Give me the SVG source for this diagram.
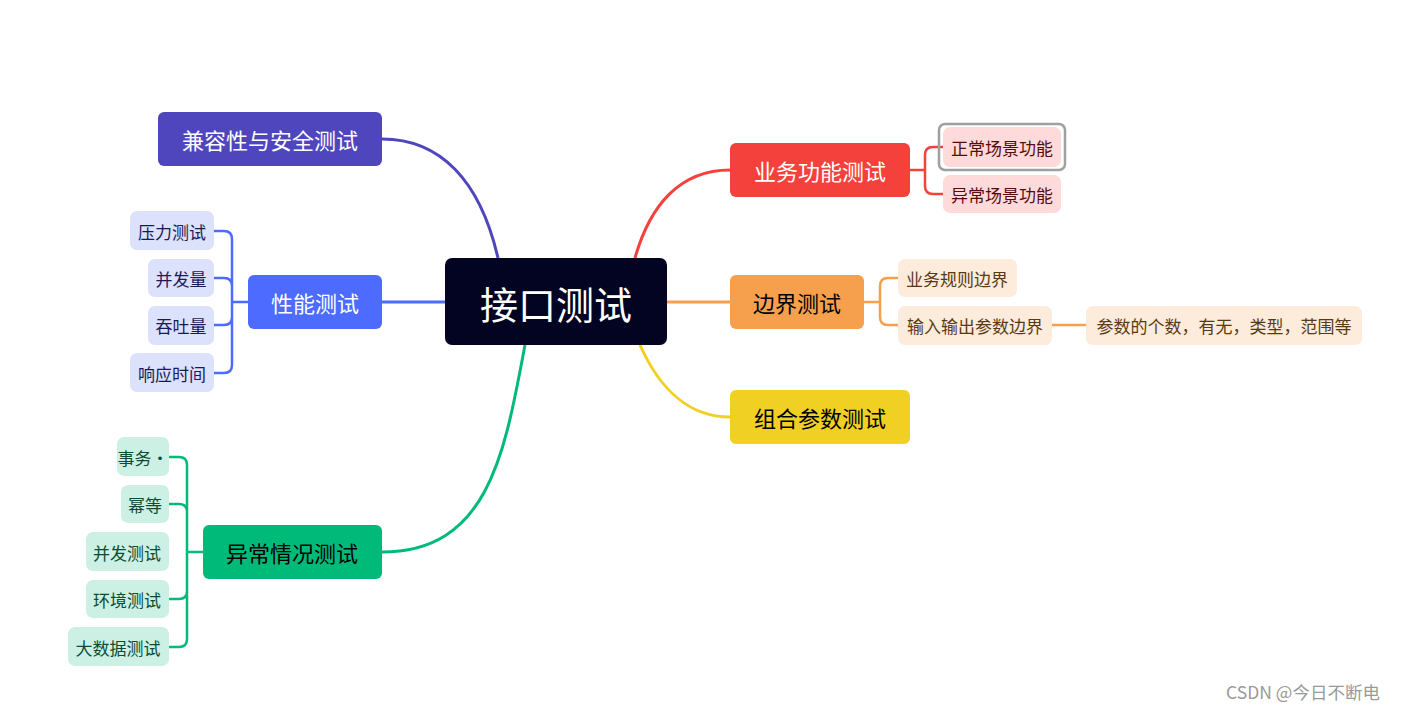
<svg xmlns="http://www.w3.org/2000/svg" width="1404" height="710" viewBox="0 0 1404 710">
<style>
text{font-family:"Noto Sans CJK SC","Liberation Sans",sans-serif;dominant-baseline:central;text-anchor:middle}
.m{font-size:22px}.s{font-size:17px}
.c{fill:none;stroke-width:3}
</style>
<rect width="1404" height="710" fill="#fff"/>
<g id="connectors">
<path class="c" stroke="#4F46BE" d="M498,258 C480,180 440,139 382,139"/>
<path class="c" stroke="#4D6BFE" d="M382,302 H445"/>
<path class="c" stroke="#00BA7A" d="M525,345 C505,450 490,552 382,552"/>
<path class="c" stroke="#F5413C" d="M635,258 C650,205 680,170 730,170"/>
<path class="c" stroke="#F6A04D" d="M667,302 H730"/>
<path class="c" stroke="#F0D023" d="M640,345 C660,390 690,417 730,417"/>
<g stroke-width="2.5" fill="none">
<path stroke="#4D6BFE" d="M248,302 H232 M214,231 H224 Q232,231 232,239 V365 Q232,373 224,373 H214 M214,278 H224 Q232,278 232,286 M214,325 H224 Q232,325 232,317"/>
<path stroke="#00BA7A" d="M203,552 H187 M169,457 H179 Q187,457 187,465 V639 Q187,647 179,647 H169 M169,504 H179 Q187,504 187,512 M169,599 H179 Q187,599 187,591"/>
<path stroke="#F5413C" d="M910,170 H925 M943,147 H933 Q925,147 925,155 V186 Q925,194 933,194 H943"/>
<path stroke="#F6A04D" d="M864,302 H880 M898,278 H888 Q880,278 880,286 V317 Q880,325 888,325 H898 M1052,325 H1086"/>
</g>
</g>
<g id="root"><rect x="445" y="258" width="222" height="87" rx="7" fill="#020422"/><text x="556" y="302" font-size="38" fill="#fff">接口测试</text></g>
<g id="n1"><rect x="158" y="112" width="224" height="54" rx="6" fill="#4F46BE"/><text class="m" x="270" y="139" fill="#fff">兼容性与安全测试</text></g>
<g id="n2"><rect x="248" y="275" width="134" height="54" rx="6" fill="#4D6BFE"/><text class="m" x="315" y="302" fill="#fff">性能测试</text></g>
<g id="n3"><rect x="203" y="525" width="179" height="54" rx="6" fill="#00BA7A"/><text class="m" x="292" y="552" fill="#000">异常情况测试</text></g>
<g id="n4"><rect x="730" y="143" width="180" height="54" rx="6" fill="#F5413C"/><text class="m" x="820" y="170" fill="#fff">业务功能测试</text></g>
<g id="n5"><rect x="730" y="275" width="134" height="54" rx="6" fill="#F6A04D"/><text class="m" x="797" y="302" fill="#000">边界测试</text></g>
<g id="n6"><rect x="730" y="390" width="180" height="54" rx="6" fill="#F0D023"/><text class="m" x="820" y="417" fill="#000">组合参数测试</text></g>
<g fill="#DCE1FC">
<g id="p1"><rect x="130" y="211" width="84" height="39" rx="7"/><text class="s" x="172" y="231" fill="#1a1a5a">压力测试</text></g>
<g id="p2"><rect x="148" y="259" width="66" height="38" rx="7"/><text class="s" x="181" y="278" fill="#1a1a5a">并发量</text></g>
<g id="p3"><rect x="148" y="306" width="66" height="39" rx="7"/><text class="s" x="181" y="325" fill="#1a1a5a">吞吐量</text></g>
<g id="p4"><rect x="130" y="353" width="84" height="39" rx="7"/><text class="s" x="172" y="373" fill="#1a1a5a">响应时间</text></g>
</g>
<g fill="#CCF1E4">
<g id="e1"><rect x="117" y="437" width="52" height="39" rx="7"/><text class="s" x="143" y="457" fill="#0b4d34">事务·</text></g>
<g id="e2"><rect x="121" y="485" width="48" height="38" rx="7"/><text class="s" x="145" y="504" fill="#0b4d34">幂等</text></g>
<g id="e3"><rect x="86" y="532" width="83" height="39" rx="7"/><text class="s" x="127" y="552" fill="#0b4d34">并发测试</text></g>
<g id="e4"><rect x="86" y="580" width="83" height="38" rx="7"/><text class="s" x="127" y="599" fill="#0b4d34">环境测试</text></g>
<g id="e5"><rect x="68" y="627" width="101" height="39" rx="7"/><text class="s" x="118" y="647" fill="#0b4d34">大数据测试</text></g>
</g>
<g fill="#FFDADA">
<g id="b1"><rect x="939" y="124" width="126" height="46" rx="6" fill="none" stroke="#a0a0a0" stroke-width="2.5"/><rect x="943" y="127" width="118" height="40" rx="7"/><text class="s" x="1002" y="147" fill="#5a0a0a">正常场景功能</text></g>
<g id="b2"><rect x="943" y="175" width="118" height="38" rx="7"/><text class="s" x="1002" y="194" fill="#5a0a0a">异常场景功能</text></g>
</g>
<g fill="#FDEBDC">
<g id="j1"><rect x="898" y="259" width="119" height="38" rx="7"/><text class="s" x="957" y="278" fill="#5a3a10">业务规则边界</text></g>
<g id="j2"><rect x="898" y="306" width="154" height="39" rx="7"/><text class="s" x="975" y="325" fill="#5a3a10">输入输出参数边界</text></g>
<g id="j3"><rect x="1086" y="306" width="276" height="39" rx="7"/><text class="s" x="1224" y="325" fill="#5a3a10">参数的个数，有无，类型，范围等</text></g>
</g>
<text x="1303" y="691" font-size="17.5" fill="#999">CSDN @今日不断电</text>
</svg>
